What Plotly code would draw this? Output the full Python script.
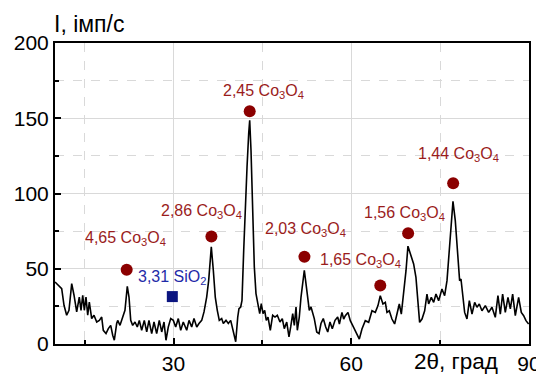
import plotly.graph_objects as go

# XRD pattern
two_theta = [10.0, 10.56, 11.13, 11.52, 11.97, 12.36, 12.82, 13.21, 13.66, 14.10, 14.39, 14.68, 14.95, 15.23,
             15.52, 15.79, 16.19, 16.58, 17.04, 17.48, 17.88, 18.15, 18.61, 19.0, 19.40, 19.74, 20.01, 20.41,
             20.58, 20.97, 21.36, 21.81, 22.20, 22.49, 22.78, 23.11, 23.50, 23.89, 24.23, 24.63, 25.07, 25.48,
             25.86, 26.32, 26.71, 27.16, 27.60, 28.01, 28.40, 28.73, 29.12, 29.53, 29.97, 30.37, 30.81, 31.22,
             31.65, 32.23, 32.62, 33.07, 33.46, 33.92, 34.30, 34.76, 35.15, 35.60, 35.94, 36.38, 36.72, 37.05,
             37.39, 37.73, 38.13, 38.41, 38.86, 39.25, 39.65, 40.09, 40.50, 40.84, 41.05, 41.34, 41.56, 41.85,
             42.12, 42.41, 42.69, 42.86, 43.08, 43.37, 43.64, 43.92, 44.26, 44.55, 44.82, 45.11, 45.39, 45.66,
             45.95, 46.34, 46.74, 47.13, 47.52, 47.97, 48.36, 48.70, 49.11, 49.49, 49.78, 50.12, 50.39, 50.68,
             50.90, 51.23, 51.52, 51.74, 52.08, 52.36, 52.65, 52.92, 53.21, 53.49, 53.76, 54.17, 54.56, 54.89,
             55.28, 55.69, 56.03, 56.41, 56.80, 57.26, 57.71, 58.00, 58.43, 58.72, 59.0, 59.45, 59.84, 60.40,
             60.97, 61.36, 61.81, 62.37, 62.94, 63.50, 64.06, 64.51, 64.90, 65.35, 65.75, 66.03, 66.42, 66.87,
             67.32, 67.72, 68.11, 68.45, 68.84, 69.24, 69.57, 69.97, 70.53, 70.92, 71.26, 71.54, 71.94, 72.39,
             72.78, 73.06, 73.51, 73.91, 74.30, 74.75, 75.31, 75.76, 76.16, 76.72, 77.17, 77.56, 78.01, 78.29,
             78.52, 78.80, 79.14, 79.53, 79.93, 80.38, 80.83, 81.22, 81.61, 82.06, 82.63, 83.19, 83.75, 84.31,
             84.76, 85.16, 85.55, 86.0, 86.45, 86.85, 87.24, 87.69, 88.25, 88.70, 89.10, 89.49, 89.94]
intensity = [41.2, 39.0, 36.8, 25.7, 19.1, 22.4, 40.1, 32.4, 21.3, 31.2, 22.4, 32.4, 22.4, 31.2,
             19.1, 27.9, 16.9, 19.1, 14.6, 15.7, 17.9, 9.1, 6.9, 10.2, 12.4, 5.8, 2.5, 13.6,
             15.7, 12.4, 16.9, 22.4, 38.3, 31.2, 15.7, 12.4, 14.6, 11.3, 15.7, 9.1, 15.7, 8.0,
             15.7, 6.9, 14.6, 6.9, 15.7, 8.0, 14.6, 2.5, 11.3, 16.9, 15.7, 11.3, 16.9, 9.1,
             14.6, 9.1, 15.7, 11.3, 16.9, 11.3, 13.6, 15.7, 21.3, 31.2, 42.3, 64.5, 49.0, 31.2,
             22.4, 15.7, 16.9, 13.6, 15.7, 13.6, 15.7, 9.1, 1.5, 17.9, 23.5, 24.6, 29.0, 62.3,
             95.5, 117.6, 139.8, 148.6, 128.7, 84.4, 51.2, 33.5, 24.6, 20.2, 26.8, 20.2, 22.4, 15.7,
             17.9, 9.1, 19.1, 17.9, 19.1, 14.6, 16.9, 10.2, 14.6, 4.7, 11.3, 20.2, 12.4, 24.6,
             9.1, 17.9, 31.2, 37.9, 49.0, 40.1, 32.4, 22.4, 24.6, 21.3, 16.9, 8.0, 6.9, 13.6,
             16.9, 11.3, 8.0, 14.6, 10.2, 15.7, 17.9, 13.3, 21.0, 16.6, 18.8, 21.0, 15.5, 11.1,
             6.6, 3.3, 10.0, 15.5, 14.4, 22.1, 21.0, 25.5, 32.1, 26.6, 27.7, 21.0, 22.1, 16.6,
             13.3, 19.9, 26.6, 19.9, 33.2, 48.7, 65.0, 59.8, 53.2, 44.3, 24.4, 14.4, 16.6, 22.1,
             33.2, 26.6, 31.0, 27.7, 33.2, 28.8, 36.5, 32.1, 42.1, 70.9, 94.8, 82.0, 53.2, 42.1,
             43.2, 31.0, 21.0, 16.6, 28.8, 19.9, 27.7, 24.4, 26.6, 22.1, 25.5, 21.0, 24.4, 17.7,
             32.1, 19.9, 33.2, 21.0, 31.0, 23.3, 33.2, 18.8, 31.0, 21.0, 18.8, 15.5, 13.3]

# Co3O4 reflections (d-spacing labels) and SiO2 reflection
co_x = [22.1, 36.4, 42.86, 52.1, 64.9, 69.6, 77.2]
co_y = [49.4, 71.4, 154.6, 58.0, 38.8, 73.6, 106.8]
co_labels = ["4,65", "2,86", "2,45", "2,03", "1,65", "1,56", "1,44"]
sio2_x = [29.8]
sio2_y = [31.5]
sio2_labels = ["3,31"]

# label offsets in pixels (layout only)
co_shift = [(-1, 31), (-10, 25), (14, 20), (1, 27), (-20, 25), (-4, 20), (5, 29)]

RED_M = "#8B0000"
RED_T = "#9A1C1C"
BLUE_M = "#0B1580"
BLUE_T = "#1F2BA8"
FONT = "Arial, Liberation Sans, sans-serif"

fig = go.Figure()
fig.add_trace(go.Scatter(x=two_theta, y=intensity, mode="lines",
                         line=dict(color="black", width=1.6), showlegend=False))
fig.add_trace(go.Scatter(x=co_x, y=co_y, mode="markers",
                         marker=dict(color=RED_M, size=12, symbol="circle"), showlegend=False))
fig.add_trace(go.Scatter(x=sio2_x, y=sio2_y, mode="markers",
                         marker=dict(color=BLUE_M, size=11, symbol="square"), showlegend=False))

for x, y, lab, (dx, dy) in zip(co_x, co_y, co_labels, co_shift):
    fig.add_annotation(x=x, y=y, text=f"{lab} Co<sub>3</sub>O<sub>4</sub>", showarrow=False,
                       xshift=dx, yshift=dy, font=dict(color=RED_T, size=16, family=FONT))
for x, y, lab in zip(sio2_x, sio2_y, sio2_labels):
    fig.add_annotation(x=x, y=y, text=f"{lab} SiO<sub>2</sub>", showarrow=False,
                       xshift=0, yshift=19, font=dict(color=BLUE_T, size=16, family=FONT))

fig.add_annotation(xref="paper", yref="paper", x=0.845, y=-0.058, text="2θ, град",
                   showarrow=False, xanchor="center", yanchor="middle",
                   font=dict(size=22.5, color="black", family=FONT))
fig.add_annotation(xref="paper", yref="paper", x=-0.006, y=1.062, text="I, імп/с",
                   showarrow=False, xanchor="left", yanchor="middle",
                   font=dict(size=23, color="black", family=FONT))

axis_common = dict(showline=True, linecolor="black", linewidth=2, mirror=True,
                   ticks="inside", ticklen=6, tickwidth=1.5, tickcolor="black",
                   showgrid=True, gridcolor="#D9D9D9", gridwidth=1, zeroline=False,
                   automargin=False,
                   tickfont=dict(size=21, color="black", family=FONT))
fig.update_xaxes(range=[10, 90], tick0=0, dtick=30,
                 minor=dict(dtick=15, ticks="inside", ticklen=4, tickcolor="black",
                            showgrid=True, gridcolor="#D9D9D9", griddash="dash", gridwidth=1),
                 **axis_common)
fig.update_yaxes(range=[0, 200], tick0=0, dtick=50,
                 minor=dict(dtick=25, ticks="inside", ticklen=4, tickcolor="black",
                            showgrid=True, gridcolor="#D9D9D9", griddash="dash", gridwidth=1),
                 **axis_common)

# the page body has an 8px default margin, so the figure is sized to fit inside the window
fig.update_layout(width=536, height=366, margin=dict(l=47, r=15, t=35, b=30),
                  plot_bgcolor="white", paper_bgcolor="white",
                  font=dict(family=FONT))
fig.write_html("out.html")
